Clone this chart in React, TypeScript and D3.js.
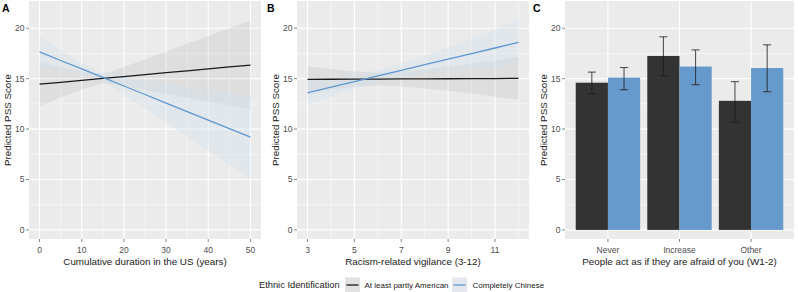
import React from "react";
import * as d3 from "d3";

const durationX = [0, 5, 10, 15, 20, 25, 30, 35, 40, 45, 50];
const durAmerFit = [14.45, 14.64, 14.83, 15.02, 15.21, 15.4, 15.59, 15.78, 15.97, 16.16, 16.35];
const durAmerLo = [12.25, 13.14, 13.93, 14.57, 14.26, 13.87, 13.49, 13.1, 12.72, 12.33, 11.95];
const durAmerHi = [16.65, 16.14, 15.73, 15.47, 16.16, 16.93, 17.69, 18.48, 19.22, 19.99, 20.75];
const durChinFit = [17.65, 16.8, 15.96, 15.12, 14.27, 13.43, 12.58, 11.74, 10.89, 10.05, 9.2];
const durChinLo = [16.1, 15.8, 15.41, 14.67, 13.37, 12.03, 10.63, 9.29, 7.89, 6.5, 5.1];
const durChinHi = [19.2, 17.8, 16.51, 15.57, 15.17, 14.83, 14.53, 14.19, 13.89, 13.6, 13.3];

const vigX = [3, 4, 5, 6, 7, 8, 9, 10, 11, 12];
const vigAmerFit = [14.93, 14.94, 14.95, 14.96, 14.97, 14.98, 14.99, 15.0, 15.01, 15.03];
const vigAmerLo = [13.63, 13.94, 14.2, 14.31, 14.22, 14.03, 13.79, 13.5, 13.21, 12.88];
const vigAmerHi = [16.23, 15.94, 15.7, 15.61, 15.72, 15.93, 16.19, 16.5, 16.81, 17.18];
const vigChinFit = [13.6, 14.16, 14.71, 15.27, 15.82, 16.38, 16.93, 17.49, 18.04, 18.6];
const vigChinLo = [12.4, 13.26, 14.01, 14.67, 15.12, 15.48, 15.73, 15.99, 16.14, 16.3];
const vigChinHi = [14.8, 15.06, 15.41, 15.87, 16.52, 17.28, 18.13, 18.99, 19.94, 20.9];

const categories = ["Never", "Increase", "Other"];
const barAmer = [14.6, 17.25, 12.8];
const barAmerLo = [13.5, 15.3, 10.7];
const barAmerHi = [15.65, 19.15, 14.7];
const barChin = [15.1, 16.2, 16.05];
const barChinLo = [13.9, 14.4, 13.7];
const barChinHi = [16.1, 17.85, 18.35];

const yTicks = [0, 5, 10, 15, 20];
const yMinor = [2.5, 7.5, 12.5, 17.5];
const durTicks = [0, 10, 20, 30, 40, 50];
const durMinor = [5, 15, 25, 35, 45];
const vigTicks = [3, 5, 7, 9, 11];
const vigMinor = [4, 6, 8, 10, 12];

const seriesNames = ["At least partly American", "Completely Chinese"];
const legendTitle = "Ethnic Identification";

const FONT = "'Liberation Sans', Arial, sans-serif";
const BG = "#EBEBEB";
const BLACK = "#1A1A1A";
const BLUE_LINE = "#5E96D1";
const BLUE_BAR = "#6699CC";
const DARK_BAR = "#333333";
const TICK_COL = "#4D4D4D";
const TICK_MARK = "#333333";

const TOP = 1;
const BOTTOM = 239;
const yScale = d3.scaleLinear().domain([-0.9, 22.7]).range([BOTTOM, TOP]);

function YAxis({ left, right, titleX }: { left: number; right: number; titleX: number }) {
  return (
    <g>
      {yMinor.map((t) => (
        <line key={"ym" + t} x1={left} x2={right} y1={yScale(t)} y2={yScale(t)} stroke="#fff" strokeWidth={0.5} />
      ))}
      {yTicks.map((t) => (
        <g key={"y" + t}>
          <line x1={left} x2={right} y1={yScale(t)} y2={yScale(t)} stroke="#fff" strokeWidth={1.1} />
          <line x1={left - 3} x2={left} y1={yScale(t)} y2={yScale(t)} stroke={TICK_MARK} strokeWidth={0.6} />
          <text x={left - 4.5} y={yScale(t)} dy="0.35em" textAnchor="end" fontSize={8.5} fill={TICK_COL} fontFamily={FONT}>
            {t}
          </text>
        </g>
      ))}
      <text
        transform={`translate(${titleX},${(TOP + BOTTOM) / 2}) rotate(-90)`}
        textAnchor="middle"
        dy="0.35em"
        fontSize={9.8}
        fill={BLACK}
        fontFamily={FONT}
      >
        Predicted PSS Score
      </text>
    </g>
  );
}

function LinePanel({
  left,
  right,
  domain,
  xs,
  ticks,
  minor,
  amerFit,
  amerLo,
  amerHi,
  chinFit,
  chinLo,
  chinHi,
  title,
  label,
  titleX,
}: any) {
  const x = d3.scaleLinear().domain(domain).range([left, right]);
  const idx = xs.map((_: number, i: number) => i);
  const area = (lo: number[], hi: number[]) =>
    d3
      .area<number>()
      .x((i) => x(xs[i]))
      .y0((i) => yScale(lo[i]))
      .y1((i) => yScale(hi[i]))(idx) as string;
  const line = (fit: number[]) =>
    d3
      .line<number>()
      .x((i) => x(xs[i]))
      .y((i) => yScale(fit[i]))(idx) as string;
  return (
    <g>
      <rect x={left} y={TOP} width={right - left} height={BOTTOM - TOP} fill={BG} />
      {minor.map((t: number) => (
        <line key={"xm" + t} x1={x(t)} x2={x(t)} y1={TOP} y2={BOTTOM} stroke="#fff" strokeWidth={0.5} />
      ))}
      {ticks.map((t: number) => (
        <line key={"xg" + t} x1={x(t)} x2={x(t)} y1={TOP} y2={BOTTOM} stroke="#fff" strokeWidth={1.1} />
      ))}
      <YAxis left={left} right={right} titleX={titleX} />
      <path d={area(amerLo, amerHi)} fill="#8C8C8C" fillOpacity={0.13} />
      <path d={area(chinLo, chinHi)} fill="#D5E0EE" fillOpacity={0.4} />
      <path d={line(amerFit)} fill="none" stroke={BLACK} strokeWidth={1.3} />
      <path d={line(chinFit)} fill="none" stroke={BLUE_LINE} strokeWidth={1.3} />
      {ticks.map((t: number) => (
        <g key={"xt" + t}>
          <line x1={x(t)} x2={x(t)} y1={BOTTOM} y2={BOTTOM + 3} stroke={TICK_MARK} strokeWidth={0.6} />
          <text x={x(t)} y={BOTTOM + 14} textAnchor="middle" fontSize={8.5} fill={TICK_COL} fontFamily={FONT}>
            {t}
          </text>
        </g>
      ))}
      <text x={(left + right) / 2} y={BOTTOM + 25.5} textAnchor="middle" fontSize={9.8} fill={BLACK} fontFamily={FONT}>
        {title}
      </text>
      <text x={label.x} y={12} fontSize={10.5} fontWeight="bold" fill="#000" fontFamily={FONT}>
        {label.t}
      </text>
    </g>
  );
}

function BarPanel({ left, right, titleX }: any) {
  const x = d3.scaleLinear().domain([0.4, 3.6]).range([left, right]);
  const unit = x(2) - x(1);
  const bw = unit * 0.45;
  const cap = 8;
  return (
    <g>
      <rect x={left} y={TOP} width={right - left} height={BOTTOM - TOP} fill={BG} />
      {categories.map((c, i) => (
        <line key={"vg" + c} x1={x(i + 1)} x2={x(i + 1)} y1={TOP} y2={BOTTOM} stroke="#fff" strokeWidth={1.1} />
      ))}
      <YAxis left={left} right={right} titleX={titleX} />
      {categories.map((c, i) => {
        const cx = x(i + 1);
        const groups = [
          { v: barAmer[i], lo: barAmerLo[i], hi: barAmerHi[i], x0: cx - bw, fill: DARK_BAR },
          { v: barChin[i], lo: barChinLo[i], hi: barChinHi[i], x0: cx, fill: BLUE_BAR },
        ];
        return (
          <g key={"b" + c}>
            {groups.map((g, k) => (
              <rect key={k} x={g.x0} y={yScale(g.v)} width={bw} height={yScale(0) - yScale(g.v)} fill={g.fill} />
            ))}
            {groups.map((g, k) => {
              const m = g.x0 + bw / 2;
              return (
                <g key={"e" + k} stroke={BLACK} strokeWidth={0.8}>
                  <line x1={m} x2={m} y1={yScale(g.lo)} y2={yScale(g.hi)} />
                  <line x1={m - cap / 2} x2={m + cap / 2} y1={yScale(g.lo)} y2={yScale(g.lo)} />
                  <line x1={m - cap / 2} x2={m + cap / 2} y1={yScale(g.hi)} y2={yScale(g.hi)} />
                </g>
              );
            })}
            <line x1={cx} x2={cx} y1={BOTTOM} y2={BOTTOM + 3} stroke={TICK_MARK} strokeWidth={0.6} />
            <text x={cx} y={BOTTOM + 14} textAnchor="middle" fontSize={8.5} fill={TICK_COL} fontFamily={FONT}>
              {c}
            </text>
          </g>
        );
      })}
      <text x={(left + right) / 2} y={BOTTOM + 25.5} textAnchor="middle" fontSize={9.8} fill={BLACK} fontFamily={FONT}>
        People act as if they are afraid of you (W1-2)
      </text>
      <text x={533} y={12} fontSize={10.5} fontWeight="bold" fill="#000" fontFamily={FONT}>
        C
      </text>
    </g>
  );
}

function Legend() {
  const cy = 285;
  return (
    <g fontFamily={FONT}>
      <text x={259} y={cy} dy="0.35em" fontSize={9.3} fill={BLACK}>
        {legendTitle}
      </text>
      <rect x={345} y={cy - 7.5} width={15} height={15} fill="#E2E2E2" />
      <line x1={346.5} x2={358.5} y1={cy} y2={cy} stroke={BLACK} strokeWidth={1.3} />
      <text x={364.5} y={cy} dy="0.35em" fontSize={8} fill={BLACK}>
        {seriesNames[0]}
      </text>
      <rect x={452} y={cy - 7.5} width={15} height={15} fill="#E4E8EE" />
      <line x1={453.5} x2={465.5} y1={cy} y2={cy} stroke={BLUE_LINE} strokeWidth={1.3} />
      <text x={472.5} y={cy} dy="0.35em" fontSize={8} fill={BLACK}>
        {seriesNames[1]}
      </text>
    </g>
  );
}

export default function App() {
  return (
    <svg width={798} height={292} style={{ position: "absolute", left: 0, top: 0, background: "#fff" }}>
      <rect width={798} height={292} fill="#fff" />
      <LinePanel
        left={29}
        right={261}
        domain={[-2.5, 52.5]}
        xs={durationX}
        ticks={durTicks}
        minor={durMinor}
        amerFit={durAmerFit}
        amerLo={durAmerLo}
        amerHi={durAmerHi}
        chinFit={durChinFit}
        chinLo={durChinLo}
        chinHi={durChinHi}
        title="Cumulative duration in the US (years)"
        label={{ x: 2, t: "A" }}
        titleX={7.5}
      />
      <LinePanel
        left={297}
        right={529}
        domain={[2.55, 12.45]}
        xs={vigX}
        ticks={vigTicks}
        minor={vigMinor}
        amerFit={vigAmerFit}
        amerLo={vigAmerLo}
        amerHi={vigAmerHi}
        chinFit={vigChinFit}
        chinLo={vigChinLo}
        chinHi={vigChinHi}
        title="Racism-related vigilance (3-12)"
        label={{ x: 267, t: "B" }}
        titleX={276}
      />
      <BarPanel left={565} right={794} titleX={543.5} />
      <Legend />
    </svg>
  );
}
